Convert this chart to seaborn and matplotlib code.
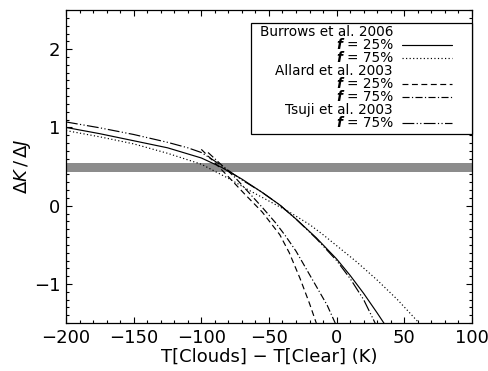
import numpy as np
import pandas as pd
import matplotlib
matplotlib.use("Agg")
import matplotlib.pyplot as plt
from matplotlib.lines import Line2D
from matplotlib.patches import Rectangle
from matplotlib.ticker import MultipleLocator
import seaborn as sns

# ---- data ----
burrows25_x = [-200, -175, -150, -125, -100, -85, -70, -55, -42, -30, -15, 0, 10, 20, 30, 35]
burrows25_y = [1.00, 0.92, 0.83, 0.74, 0.61, 0.49, 0.34, 0.17, 0.01, -0.17, -0.41, -0.68, -0.89, -1.12, -1.37, -1.50]

burrows75_x = [-200, -175, -150, -125, -100, -90, -80, -65, -50, -35, -20, -10, 0, 15, 30, 45, 60]
burrows75_y = [0.96, 0.88, 0.79, 0.67, 0.53, 0.44, 0.35, 0.20, 0.06, -0.08, -0.24, -0.37, -0.51, -0.72, -0.95, -1.20, -1.48]

allard25_x = [-100, -90, -80, -68, -55, -42, -35, -27, -20, -15]
allard25_y = [0.72, 0.55, 0.37, 0.15, -0.08, -0.37, -0.60, -0.93, -1.25, -1.50]

allard75_x = [-95, -85, -75, -65, -55, -45, -38, -30, -17, -7, -1]
allard75_y = [0.68, 0.52, 0.36, 0.17, -0.02, -0.22, -0.38, -0.58, -0.97, -1.27, -1.50]

tsuji75_x = [-200, -175, -150, -125, -110, -100, -90, -80, -70, -55, -42, -30, -15, 0, 10, 20, 28.5]
tsuji75_y = [1.07, 0.995, 0.91, 0.81, 0.74, 0.68, 0.57, 0.45, 0.33, 0.17, 0.01, -0.17, -0.42, -0.70, -0.93, -1.20, -1.50]

band_lo, band_hi = 0.43, 0.55

legend_groups = ["Burrows et al. 2006", "Allard et al. 2003", "Tsuji et al. 2003"]
legend_fracs = [["25%", "75%"], ["25%", "75%"], ["75%"]]

sns.set_style("ticks")
plt.rcParams['font.family'] = ['DejaVu Sans']
plt.rcParams['mathtext.fontset'] = 'dejavusans'
for k in ['text.color', 'axes.labelcolor', 'xtick.color', 'ytick.color', 'axes.edgecolor']:
    plt.rcParams[k] = 'black'

fig = plt.figure(figsize=(4.89, 3.71), dpi=100)
ax = fig.add_axes([0.135, 0.129, 0.830, 0.844])

ax.axhspan(band_lo, band_hi, color='#8c8c8c', lw=0, zorder=1)

LW = 0.85
styles = ['-', (0, (1, 2)), (0, (5, 3)), (0, (6, 2, 1, 2)), (0, (10, 2, 1, 2, 1, 2))]
series = [
    (burrows25_x, burrows25_y),
    (burrows75_x, burrows75_y),
    (allard25_x, allard25_y),
    (allard75_x, allard75_y),
    (tsuji75_x, tsuji75_y),
]
for (xs, ys), ls in zip(series, styles):
    df = pd.DataFrame({'x': xs, 'y': ys})
    sns.lineplot(data=df, x='x', y='y', ax=ax, color='black', lw=LW,
                 linestyle=ls, sort=False, estimator=None, zorder=3)

ax.set_xlim(-200, 100)
ax.set_ylim(-1.5, 2.5)
ax.xaxis.set_major_locator(MultipleLocator(50))
ax.xaxis.set_minor_locator(MultipleLocator(10))
ax.yaxis.set_major_locator(MultipleLocator(1))
ax.yaxis.set_minor_locator(MultipleLocator(0.1))
ax.tick_params(which='both', direction='in', top=True, right=True, labelsize=13, width=0.8)
ax.tick_params(which='major', length=4.5, pad=4)
ax.tick_params(which='minor', length=2.5)
for s in ax.spines.values():
    s.set_linewidth(0.9)
    s.set_color('black')

ax.set_xlabel("T[Clouds] \u2212 T[Clear] (K)", fontsize=13, labelpad=1)
ax.set_ylabel(r"$\Delta K\,/\,\Delta J$", fontsize=13, labelpad=0.5)

# ---- legend box (drawn in axes coordinates, IDL style) ----
W, H = 406.0, 313.0  # axes size in px
def fx(px):
    return (px - 66) / W
def fy(py):
    return 1 - (py - 10) / H

ax.add_patch(Rectangle((fx(251), fy(134)), fx(472) - fx(251), fy(23) - fy(134),
                       transform=ax.transAxes, facecolor='white', edgecolor='black',
                       lw=0.9, zorder=5, clip_on=False))

row_y = [32.0 + 13.05 * i for i in range(8)]
text_right = fx(393)
h0, h1 = fx(402), fx(452)
row = 0
style_i = 0
fig.canvas.draw()
renderer = fig.canvas.get_renderer()
for g, fracs in zip(legend_groups, legend_fracs):
    ax.text(text_right, fy(row_y[row]), g, transform=ax.transAxes, ha='right', va='center',
            fontsize=9.8, zorder=6)
    row += 1
    for fr in fracs:
        y = fy(row_y[row])
        t = ax.text(text_right, y, "= " + fr, transform=ax.transAxes, ha='right', va='center',
                    fontsize=9.8, zorder=6)
        bb = t.get_window_extent(renderer)
        xl = ax.transAxes.inverted().transform((bb.x0, bb.y0))[0]
        ax.text(xl - 4 / W, y, "f", transform=ax.transAxes, ha='right', va='center',
                fontsize=9.8, fontstyle='italic', fontweight='bold', zorder=6)
        ax.add_line(Line2D([h0, h1], [y, y], transform=ax.transAxes, color='black', lw=LW,
                           linestyle=styles[style_i], zorder=6))
        style_i += 1
        row += 1

fig.savefig("out.png", dpi=100)
